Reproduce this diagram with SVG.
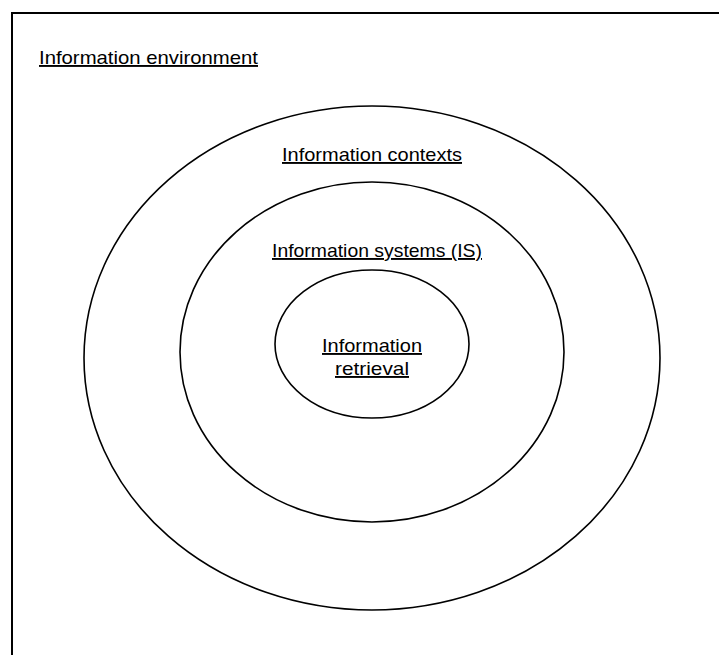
<svg xmlns="http://www.w3.org/2000/svg" width="719" height="655" viewBox="0 0 719 655">
  <style>
    .ring { fill: none; stroke: #000; stroke-width: 1.6; }
    .label { font-family: "Gill Sans", "Liberation Sans", Arial, sans-serif; font-size: 19px; fill: #000; text-decoration: underline; }
  </style>
  <rect x="0" y="0" width="719" height="655" fill="#fff"/>

  <!-- frame: open on the right and bottom edges -->
  <g id="environment">
    <rect x="12" y="13" width="730" height="670" fill="none" stroke="#000" stroke-width="2"/>
    <text class="label" x="39" y="64" textLength="219" lengthAdjust="spacingAndGlyphs">Information environment</text>
  </g>

  <g id="contexts">
    <ellipse class="ring" cx="372" cy="358" rx="288" ry="252"/>
    <text class="label" x="282" y="161" textLength="180" lengthAdjust="spacingAndGlyphs">Information contexts</text>
  </g>

  <g id="systems">
    <ellipse class="ring" cx="372" cy="352" rx="192" ry="170"/>
    <text class="label" x="272" y="257" textLength="210" lengthAdjust="spacingAndGlyphs">Information systems (IS)</text>
  </g>

  <g id="retrieval">
    <ellipse class="ring" cx="372" cy="344" rx="97" ry="74"/>
    <text class="label" x="322" y="352" textLength="100" lengthAdjust="spacingAndGlyphs">Information</text>
    <text class="label" x="335" y="375" textLength="74" lengthAdjust="spacingAndGlyphs">retrieval</text>
  </g>

  <g id="connectors"/>
</svg>
